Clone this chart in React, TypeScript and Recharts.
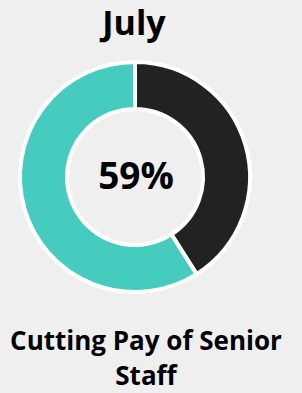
import React from 'react'
import { PieChart, Pie, Cell } from 'recharts'

const title = 'July'
const captionLines = ['Cutting Pay of Senior', 'Staff']
const segmentNames = ['Cut', 'Remaining']
const segmentValues = [41, 59]
const segmentColors = ['#222222', '#45ccbf']

const data = segmentNames.map((name, i) => ({ name, value: segmentValues[i] }))
const total = segmentValues.reduce((a, b) => a + b, 0)
const centerText = `${Math.round((segmentValues[1] / total) * 100)}%`

const font = '"Open Sans", "Noto Sans", sans-serif'

export default function App() {
  return (
    <div
      style={{
        position: 'absolute',
        left: 0,
        top: 0,
        width: 302,
        height: 393,
        background: '#efefef',
        fontFamily: font,
      }}
    >
      <PieChart
        width={302}
        height={393}
        margin={{ top: 0, right: 0, bottom: 0, left: 0 }}
      >
        <Pie
          data={data}
          dataKey="value"
          nameKey="name"
          cx={135}
          cy={177}
          innerRadius={68}
          outerRadius={115}
          startAngle={90}
          endAngle={-270}
          stroke="#ffffff"
          strokeWidth={4}
          isAnimationActive={false}
        >
          {data.map((d, i) => (
            <Cell key={d.name} fill={segmentColors[i]} />
          ))}
        </Pie>
      </PieChart>
      <svg
        width={302}
        height={393}
        style={{ position: 'absolute', left: 0, top: 0, pointerEvents: 'none' }}
      >
        <text
          x={134}
          y={35}
          textAnchor="middle"
          fontSize={34}
          fontWeight={700}
          fontFamily={font}
          fill="#000"
        >
          {title}
        </text>
        <text
          x={136}
          y={189}
          textAnchor="middle"
          fontSize={37}
          fontWeight={700}
          fontFamily={font}
          fill="#000"
        >
          {centerText}
        </text>
        {captionLines.map((line, i) => (
          <text
            key={line}
            x={146}
            y={350 + i * 35}
            textAnchor="middle"
            fontSize={26}
            fontWeight={700}
            fontFamily={font}
            fill="#000"
          >
            {line}
          </text>
        ))}
      </svg>
    </div>
  )
}
